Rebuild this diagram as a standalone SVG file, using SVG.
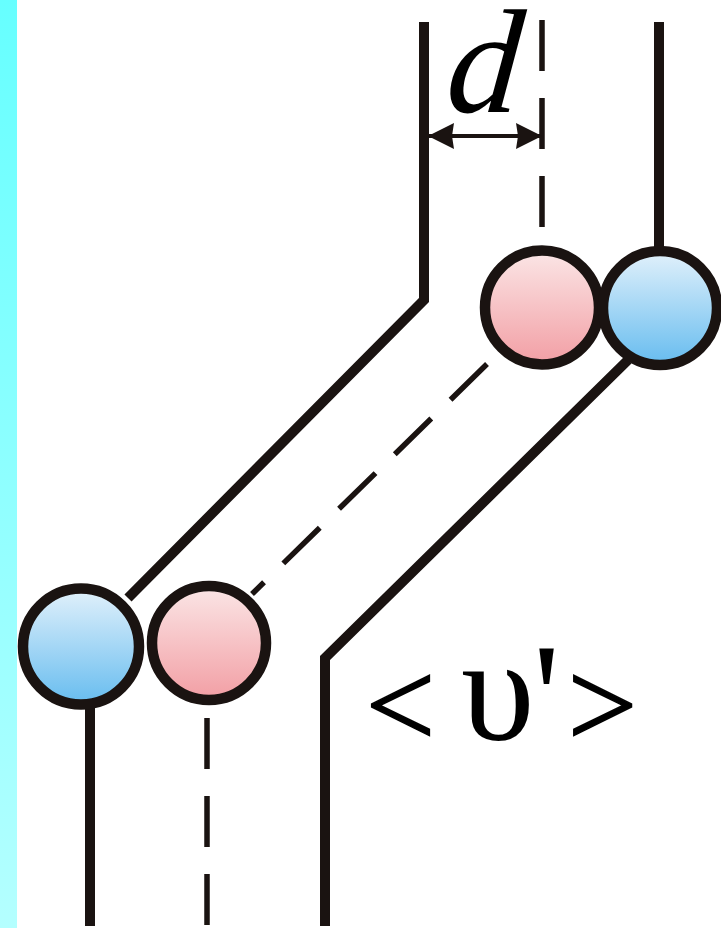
<svg xmlns="http://www.w3.org/2000/svg" width="721" height="928" viewBox="0 0 721 928">
<style>
.s{fill:none;stroke:#1a1311;stroke-width:10;stroke-linejoin:miter}
.d{fill:none;stroke:#1a1311;stroke-width:5.5;stroke-dasharray:51 27}
.c{stroke:#1a1311;stroke-width:10.500}
.t{font-family:"Liberation Serif",serif;fill:#000}
.b{stroke:#000;stroke-width:1.5}
</style>
<defs>
<linearGradient id="strip" x1="0" y1="0" x2="0" y2="1"><stop offset="0" stop-color="#66ffff"/><stop offset="1" stop-color="#b4ffff"/></linearGradient>
<linearGradient id="pink" x1="0" y1="0" x2="0" y2="1"><stop offset="0" stop-color="#fbe6e6"/><stop offset="1" stop-color="#f29ea4"/></linearGradient>
<linearGradient id="blue" x1="0" y1="0" x2="0" y2="1"><stop offset="0" stop-color="#e2f1fb"/><stop offset="1" stop-color="#66bcef"/></linearGradient>
<marker id="a" viewBox="0 0 26 26" refX="25" refY="13" markerWidth="26" markerHeight="26" markerUnits="userSpaceOnUse" orient="auto-start-reverse"><path d="M0 0L26 13L0 26L2 13Z" fill="#1a1311"/></marker>
</defs>
<rect width="721" height="928" fill="#fff"/>
<rect id="strip-bar" width="17" height="928" fill="url(#strip)"/>
<g id="connectors">
<path class="s" d="M424 22V300L128 598"/>
<path class="s" d="M659 22V250"/>
<path class="s" d="M325 926V658L628 360"/>
<path class="s" d="M90 700V926"/>
<path class="d" d="M542 20V230"/>
<path class="d" d="M487 364L252 594"/>
<path class="d" d="M207 718V926"/>
<path d="M429 136H541" fill="none" stroke="#1a1311" stroke-width="4" marker-start="url(#a)" marker-end="url(#a)"/>
</g>
<g id="pink-top"><circle class="c" cx="542" cy="307.500" r="57" fill="url(#pink)"/></g>
<g id="blue-top"><circle class="c" cx="660" cy="308" r="57" fill="url(#blue)"/></g>
<g id="blue-bottom"><circle class="c" cx="81" cy="646.500" r="58" fill="url(#blue)"/></g>
<g id="pink-bottom"><circle class="c" cx="209" cy="643" r="57" fill="url(#pink)"/></g>
<g id="labels">
<text class="t" transform="translate(444 112) skewX(-5)" font-size="148" font-style="italic">d</text>
<text class="t b" x="365.500" y="747" font-size="124">&lt;</text>
<text class="t" x="461" y="740" font-size="149">υ</text>
<text class="t" x="533" y="747" font-size="150">'</text>
<text class="t b" x="567.500" y="747" font-size="124">&gt;</text>
</g>
</svg>
